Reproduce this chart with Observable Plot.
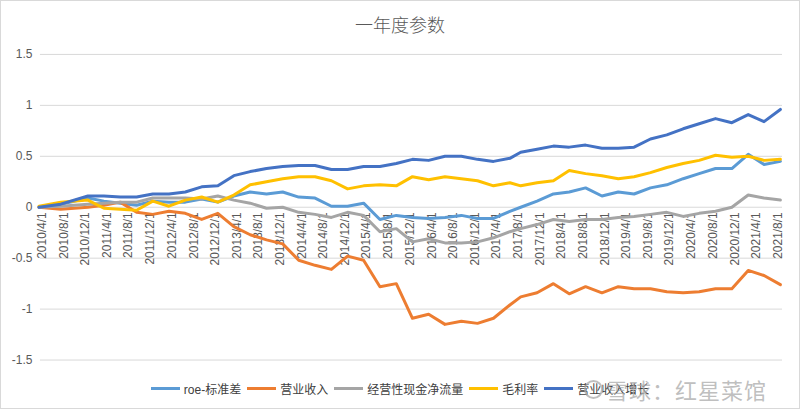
<!DOCTYPE html>
<html>
<head>
<meta charset="utf-8">
<script src="https://cdn.jsdelivr.net/npm/d3@7"></script>
<script src="https://cdn.jsdelivr.net/npm/@observablehq/plot@0.6"></script>
<style>
  body { margin: 0; background: #fff; }
  #chart { position: relative; width: 800px; height: 409px; box-sizing: border-box; border: 1px solid #d9d9d9; overflow: hidden;
           font-family: "Liberation Sans", "Noto Sans CJK SC", sans-serif; background: #fff; }
  #title { position: absolute; top: 10px; left: -1px; width: 800px; text-align: center; font-size: 18px; color: #595959;
           font-family: "Noto Sans CJK SC", sans-serif; font-weight: 300; }
  #plot { position: absolute; left: -1px; top: -1px; }
  #legend { position: absolute; top: 378px; left: -1px; width: 800px; display: flex; justify-content: center; align-items: center;
            font-size: 12px; color: #404040; height: 18px; }
  .item { display: flex; align-items: center; margin: 0 3px; }
  .sw { display: inline-block; width: 29px; height: 3px; margin-right: 4px; }
  #wm { position: absolute; left: 583px; top: 372px; font-size: 22px; color: rgba(170,170,170,0.75);
        font-family: "Noto Sans CJK SC", sans-serif; display: flex; align-items: center; letter-spacing: 1px; }
  #wm .logo { display: inline-block; width: 15px; height: 15px; border: 2px solid rgba(170,170,170,0.75); border-radius: 50%; margin-right: 3px; }
</style>
</head>
<body>
<div id="chart">
  <div id="plot"></div>
  <div id="title">一年度参数</div>
  <div id="legend"></div>
  <div id="wm"><span class="logo"></span>雪球：红星菜馆</div>
</div>
<script>
// ---- data ----
const dates = ["2010/3","2010/7","2010/12","2011/3","2011/6","2011/9","2011/12",
  "2012/3","2012/6","2012/9","2012/12","2013/3","2013/6","2013/9","2013/12",
  "2014/3","2014/6","2014/9","2014/12","2015/3","2015/6","2015/9","2015/12",
  "2016/3","2016/6","2016/9","2016/12","2017/3","2017/6","2017/8","2017/11",
  "2018/2","2018/5","2018/8","2018/11","2019/2","2019/5","2019/8","2019/11",
  "2020/2","2020/5","2020/8","2020/11","2021/2","2021/5","2021/8"];

const seriesNames = ["roe-标准差", "营业收入", "经营性现金净流量", "毛利率", "营业收入增长"];
const seriesColors = ["#5B9BD5", "#ED7D31", "#A5A5A5", "#FFC000", "#4472C4"];

const roeStd = [0.00,0.03,0.09,0.06,0.04,0.02,0.06,0.05,0.05,0.08,0.05,0.11,0.15,0.13,0.15,
  0.10,0.09,0.01,0.01,0.04,-0.12,-0.08,-0.10,-0.11,-0.10,-0.08,-0.11,-0.11,-0.04,0.00,0.06,
  0.13,0.15,0.19,0.11,0.15,0.13,0.19,0.22,0.28,0.33,0.38,0.38,0.52,0.42,0.45];
const revenue = [0.00,-0.02,0.00,0.02,0.05,-0.05,-0.07,-0.04,-0.06,-0.12,-0.06,-0.19,-0.27,-0.32,-0.36,
  -0.52,-0.57,-0.61,-0.48,-0.52,-0.78,-0.75,-1.09,-1.05,-1.15,-1.12,-1.14,-1.09,-0.96,-0.88,-0.84,
  -0.75,-0.85,-0.78,-0.84,-0.78,-0.80,-0.80,-0.83,-0.84,-0.83,-0.80,-0.80,-0.62,-0.67,-0.76];
const cashFlow = [0.00,0.01,0.03,0.04,0.05,0.05,0.09,0.09,0.09,0.08,0.11,0.07,0.04,-0.01,0.00,
  -0.05,-0.07,-0.10,-0.05,-0.08,-0.24,-0.21,-0.34,-0.31,-0.35,-0.35,-0.34,-0.30,-0.24,-0.21,-0.17,
  -0.12,-0.14,-0.12,-0.12,-0.10,-0.09,-0.07,-0.05,-0.09,-0.06,-0.04,0.00,0.12,0.09,0.07];
const grossMargin = [0.01,0.05,0.07,-0.01,-0.02,-0.03,0.06,0.01,0.07,0.10,0.05,0.12,0.22,0.25,0.28,
  0.30,0.30,0.26,0.18,0.21,0.22,0.21,0.30,0.27,0.30,0.28,0.26,0.21,0.24,0.21,0.24,
  0.26,0.36,0.33,0.31,0.28,0.30,0.34,0.39,0.43,0.46,0.51,0.49,0.50,0.46,0.47];
const revenueGrowth = [0.00,0.03,0.11,0.11,0.10,0.10,0.13,0.13,0.15,0.20,0.21,0.31,0.35,0.38,0.40,
  0.41,0.41,0.37,0.37,0.40,0.40,0.43,0.47,0.46,0.50,0.50,0.47,0.45,0.48,0.54,0.57,
  0.60,0.59,0.61,0.58,0.58,0.59,0.67,0.71,0.77,0.82,0.87,0.83,0.91,0.84,0.96];

const tickLabels = ["2010/4/1","2010/8/1","2010/12/1","2011/4/1","2011/8/1","2011/12/1",
  "2012/4/1","2012/8/1","2012/12/1","2013/4/1","2013/8/1","2013/12/1","2014/4/1","2014/8/1","2014/12/1",
  "2015/4/1","2015/8/1","2015/12/1","2016/4/1","2016/8/1","2016/12/1","2017/4/1","2017/8/1","2017/12/1",
  "2018/4/1","2018/8/1","2018/12/1","2019/4/1","2019/8/1","2019/12/1","2020/4/1","2020/8/1","2020/12/1",
  "2021/4/1","2021/8/1"];
const yTicks = [-1.5, -1, -0.5, 0, 0.5, 1, 1.5];

// ---- build ----
const parseMonth = s => { const [y, m] = s.split("/").map(Number); return new Date(Date.UTC(y, m - 1, 15)); };
const parseDay = s => { const [y, m, d] = s.split("/").map(Number); return new Date(Date.UTC(y, m - 1, d)); };

const allSeries = [roeStd, revenue, cashFlow, grossMargin, revenueGrowth];
const rows = [];
allSeries.forEach((vals, i) => vals.forEach((v, j) => rows.push({ date: parseMonth(dates[j]), value: v, series: seriesNames[i] })));

const chart = Plot.plot({
  width: 800,
  height: 374,
  marginLeft: 40,
  marginRight: 17,
  marginTop: 54,
  marginBottom: 14,
  style: { fontFamily: "'Liberation Sans', 'Noto Sans CJK SC', sans-serif", fontSize: "12px", background: "transparent" },
  x: { type: "utc", domain: [parseDay("2010/3/23"), parseDay("2021/8/27")], axis: null },
  y: { domain: [-1.5, 1.5], axis: null },
  color: { domain: seriesNames, range: seriesColors },
  marks: [
    Plot.ruleY(yTicks, { stroke: "#d9d9d9", strokeWidth: 1 }),
    Plot.axisY({ ticks: yTicks, tickSize: 0, tickPadding: 8, tickFormat: d => String(d), color: "#595959", fontSize: 12, label: null }),
    Plot.text(tickLabels, { x: d => parseDay(d), y: () => 0, text: d => d, rotate: -90, textAnchor: "end",
      dy: 5, fontSize: 12, fill: "#595959" }),
    Plot.line(rows, { x: "date", y: "value", z: "series", stroke: "series", strokeWidth: 3,
      strokeLinejoin: "round", strokeLinecap: "round", curve: "linear" })
  ]
});
document.getElementById("plot").appendChild(chart);

// legend
const legend = document.getElementById("legend");
seriesNames.forEach((name, i) => {
  const item = document.createElement("div");
  item.className = "item";
  const sw = document.createElement("span");
  sw.className = "sw";
  sw.style.background = seriesColors[i];
  const lab = document.createElement("span");
  lab.textContent = name;
  item.appendChild(sw);
  item.appendChild(lab);
  legend.appendChild(item);
});
</script>
</body>
</html>
